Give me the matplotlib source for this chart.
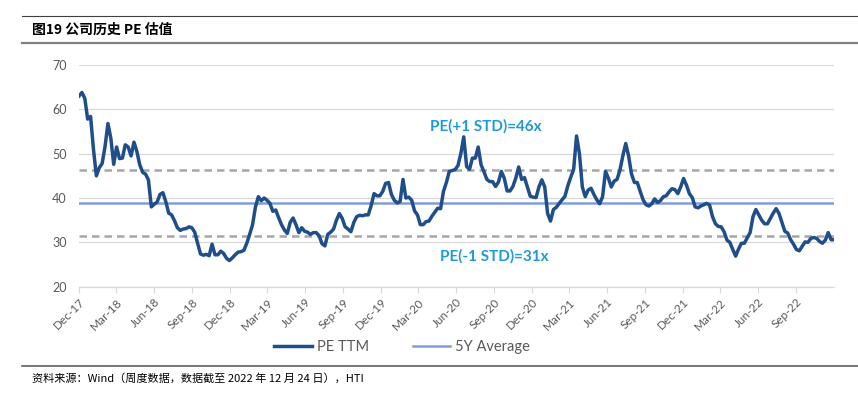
import matplotlib
matplotlib.use('Agg')
import matplotlib.pyplot as plt
from matplotlib.lines import Line2D
import pandas as pd

# weekly PE TTM (262 weeks, Dec-17 .. 24 Dec 2022)
pe_ttm = [
    63.0, 63.8, 62.5, 57.8, 58.4, 51.0, 45.0, 46.8, 47.8, 51.6,
    56.8, 53.5, 47.6, 51.5, 48.9, 49.0, 52.0, 51.5, 49.5, 52.6,
    50.5, 47.5, 45.8, 45.4, 44.1, 38.0, 38.6, 39.1, 40.8, 41.2,
    39.2, 36.6, 36.2, 34.9, 33.3, 32.7, 33.0, 33.1, 33.5, 33.3,
    32.3, 29.8, 27.4, 27.1, 27.3, 27.0, 29.6, 27.2, 27.2, 28.0,
    27.5, 26.4, 25.9, 26.5, 27.2, 27.8, 27.9, 28.2, 29.8, 31.8,
    34.0, 38.0, 40.3, 39.4, 40.0, 39.5, 38.8, 37.0, 37.3, 35.6,
    34.0, 32.8, 32.0, 34.5, 35.5, 34.0, 32.2, 33.3, 32.5, 32.3,
    31.8, 32.2, 32.2, 31.5, 29.7, 29.2, 31.8, 32.3, 33.0, 35.0,
    36.5, 35.4, 33.5, 33.0, 32.4, 34.5, 35.8, 36.1, 36.0, 36.2,
    36.2, 38.3, 41.0, 40.5, 40.5, 41.5, 43.3, 43.5, 40.8, 39.5,
    38.9, 39.2, 44.2, 40.0, 40.2, 39.5, 37.1, 36.2, 34.0, 34.0,
    34.7, 34.8, 35.9, 36.8, 37.7, 37.6, 41.5, 43.5, 46.0, 46.2,
    46.4, 47.3, 50.0, 53.8, 47.1, 46.5, 49.0, 49.0, 51.5, 47.5,
    45.9, 44.2, 43.7, 43.7, 42.6, 43.6, 46.0, 44.5, 41.6, 41.6,
    42.6, 44.5, 47.0, 44.2, 44.6, 42.5, 40.4, 40.2, 40.1, 42.5,
    44.1, 42.5, 36.5, 34.8, 37.4, 37.9, 38.8, 39.6, 40.4, 42.8,
    44.7, 46.5, 54.0, 50.0, 42.5, 40.3, 41.8, 42.2, 40.8, 39.6,
    38.7, 40.3, 46.0, 44.5, 42.5, 43.8, 44.2, 46.3, 49.5, 52.3,
    49.5, 45.4, 43.5, 43.5, 41.5, 39.6, 38.5, 38.2, 38.7, 39.8,
    39.0, 39.4, 40.3, 40.5, 41.4, 42.1, 41.9, 41.0, 42.5, 44.4,
    42.9, 41.0, 40.1, 38.0, 37.8, 38.2, 38.5, 38.8, 38.4, 35.8,
    34.2, 33.6, 33.5, 32.4, 30.5, 30.0, 28.4, 26.9, 28.5, 29.8,
    29.8, 31.0, 32.2, 35.8, 37.4, 36.2, 35.0, 34.2, 34.2, 35.4,
    36.6, 37.6, 36.5, 34.5, 32.5, 32.1, 30.6, 29.6, 28.4, 28.1,
    29.1, 30.1, 30.0, 30.9, 31.1, 30.9, 30.2, 29.8, 30.5, 32.2,
    30.6, 30.6,
]
avg_5y = 38.8
plus_std = 46.3
minus_std = 31.4
start_date = '2017-12-23'
tick_labels = ['Dec-17', 'Mar-18', 'Jun-18', 'Sep-18', 'Dec-18', 'Mar-19', 'Jun-19',
               'Sep-19', 'Dec-19', 'Mar-20', 'Jun-20', 'Sep-20', 'Dec-20', 'Mar-21',
               'Jun-21', 'Sep-21', 'Dec-21', 'Mar-22', 'Jun-22', 'Sep-22']

dates = pd.date_range(start_date, periods=len(pe_ttm), freq='7D')
ticks = [pd.Timestamp(start_date) + pd.DateOffset(months=3 * k) for k in range(len(tick_labels))]

cjk = ['Noto Sans CJK SC', 'DejaVu Sans']
latin = ['Lato', 'DejaVu Sans']
grey = '#595959'

W, H = 858, 399
fig = plt.figure(figsize=(W / 100, H / 100), dpi=100)
ax = fig.add_axes([79 / W, 1 - 286.7 / H, (834 - 79) / W, (286.7 - 65) / H])

ax.plot(dates, pe_ttm, color='#1F4E8A', lw=2.5, solid_joinstyle='round', label='PE TTM', zorder=4)
ax.axhline(avg_5y, color='#7F9ED8', lw=1.8, label='5Y Average', zorder=3)
ax.axhline(plus_std, color='#A6A6A6', lw=1.8, ls=(0, (3, 2)), zorder=2)
ax.axhline(minus_std, color='#A6A6A6', lw=1.8, ls=(0, (3, 2)), zorder=2)

ax.set_ylim(20, 70)
ax.set_yticks(range(20, 71, 10))
ax.set_xlim(dates[0], dates[-1])
ax.set_xticks(ticks)
ax.set_xticklabels(tick_labels, rotation=45, ha='right', rotation_mode='anchor')
ax.grid(axis='y', color='#D9D9D9', lw=0.9)
ax.set_axisbelow(True)
for s in ['top', 'right', 'left']:
    ax.spines[s].set_visible(False)
ax.spines['bottom'].set_color('#D9D9D9')
ax.spines['bottom'].set_linewidth(0.9)
ax.tick_params(axis='y', length=0, pad=9, labelsize=9, labelcolor=grey)
ax.tick_params(axis='x', length=4, color='#D9D9D9', pad=3, labelsize=8.5, labelcolor=grey)
for lab in ax.get_xticklabels() + ax.get_yticklabels():
    lab.set_family(latin)

ax.text(pd.Timestamp('2020-09-03'), 56.1, 'PE(+1 STD)=46x', color='#1E9AD6',
        fontsize=11, fontweight='bold', family=latin, ha='center', va='center')
ax.text(pd.Timestamp('2020-09-22'), 26.9, 'PE(-1 STD)=31x', color='#1E9AD6',
        fontsize=11, fontweight='bold', family=latin, ha='center', va='center')

leg = fig.legend(loc='center', bbox_to_anchor=(402 / W, 1 - 347 / H), ncol=2, frameon=False,
                 handlelength=2.6, columnspacing=3.0, handletextpad=0.3,
                 prop={'family': latin, 'size': 10.5})
for t in leg.get_texts():
    t.set_color(grey)

# header / footer rules and text
fig.add_artist(Line2D([22 / W, 1], [1 - 15.5 / H] * 2, color='#404040', lw=0.8))
fig.add_artist(Line2D([22 / W, 1], [1 - 42.5 / H] * 2, color='#808080', lw=1.6))
fig.add_artist(Line2D([22 / W, 1], [1 - 366 / H] * 2, color='#606060', lw=1.2))
fig.text(32 / W, 1 - 29.5 / H, '图19 公司历史 PE 估值', family=cjk, fontsize=10,
         fontweight='bold', va='center', ha='left', color='black')
fig.text(32 / W, 1 - 378 / H, '资料来源：Wind（周度数据，数据截至 2022 年 12 月 24 日），HTI',
         family=cjk, fontsize=8, va='center', ha='left', color='black')

fig.savefig('out.png', dpi=100)
